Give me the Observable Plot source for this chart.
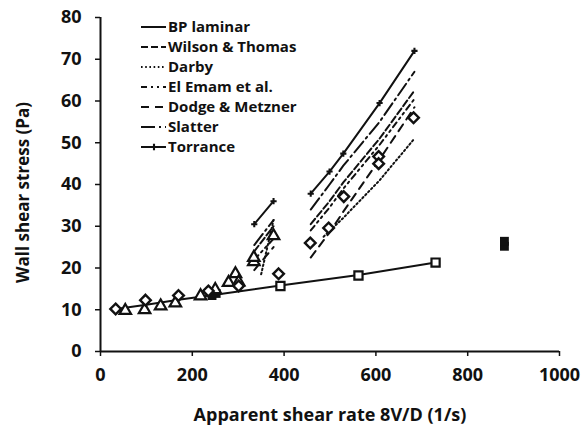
<!DOCTYPE html>
<html><head><meta charset="utf-8">
<script src="https://cdn.jsdelivr.net/npm/d3@7"></script>
<script src="https://cdn.jsdelivr.net/npm/@observablehq/plot@0.6"></script>
<style>
body{margin:0;background:#fff;}
#wrap{position:relative;width:587px;height:432px;}
#legend{position:absolute;left:140px;top:17px;}
</style></head><body><div id="wrap"></div>
<script>
// Legend / model names and their dash styles
const models = ["BP laminar","Wilson & Thomas","Darby","El Emam et al.","Dodge & Metzner","Slatter","Torrance"];
const dashes = [null,"7,3","1.6,2.6","6,4,2,4,2,4","8,6","14,4,2,4",null];

// Axis ticks
const xTicks = [0,200,400,600,800,1000];
const yTicks = [0,10,20,30,40,50,60,70,80];

// BP laminar model
const bpX = [30,100,170,250,392,562,730];
const bpY = [10.1,11.2,12.4,13.6,15.8,18.3,21.3];

// Model predictions, group 1 (low range) and group 2 (high range)
const g1X = [335,377];
const g2X = [458,499,529,608,684];
const wtY1 = [24,30];           const wtY2 = [30.5,36,40.5,51,62.5];
const darbyX1 = [350,377];      const darbyY1 = [18.5,31.5];
const darbyX2 = [486,529,608,684]; const darbyY2 = [27.5,32,41,51];
const eeY1 = [22,27];           const eeY2 = [29,34.5,39,49.5,60.5];
const dmY1 = [19.5,25];         const dmY2 = [22.5,28.5,33.5,46,58.5];
const slY1 = [25.5,31.5];       const slY2 = [34,40,44.5,55,67];
const torY1 = [30.5,36];        const torY2 = [37.8,43.1,47.4,59.5,72];

// Experimental data
const diaX = [33,98,170,235,301,388,457,497,530,606,606,682];
const diaY = [10.2,12.3,13.4,14.5,15.7,18.6,26,29.6,37.1,46.7,45,56];
const triX = [54,96,131,163,218,250,279,294,301,334,334,377];
const triY = [9.8,10.0,10.9,11.6,13.3,14.8,16.5,18.6,16.6,21.5,22.5,27.7];
const sqX = [392,562,730];
const sqY = [15.7,18.2,21.3];
const fsqX = [243,252,880,880];
const fsqY = [13.4,13.9,25.2,26.4];

const pts = (xs, ys, name, grp) => xs.map((x,i)=>({x, y: ys[i], model: name, g: grp}));
const series = {
  "BP laminar": pts(bpX,bpY,"BP laminar",1),
  "Wilson & Thomas": [...pts(g1X,wtY1,"WT",1), ...pts(g2X,wtY2,"WT",2)],
  "Darby": [...pts(darbyX1,darbyY1,"D",1), ...pts(darbyX2,darbyY2,"D",2)],
  "El Emam et al.": [...pts(g1X,eeY1,"EE",1), ...pts(g2X,eeY2,"EE",2)],
  "Dodge & Metzner": [...pts(g1X,dmY1,"DM",1), ...pts(g2X,dmY2,"DM",2)],
  "Slatter": [...pts(g1X,slY1,"S",1), ...pts(g2X,slY2,"S",2)],
  "Torrance": [...pts(g1X,torY1,"T",1), ...pts(g2X,torY2,"T",2)]
};

const ink = "#111";
const font = "'Open Sans', sans-serif";

const lineMarks = models.map((m,i) => Plot.line(series[m], {
  x: "x", y: "y", z: "g", stroke: ink, strokeWidth: 2,
  strokeDasharray: dashes[i] || undefined
}));

const chart = Plot.plot({
  width: 587, height: 432,
  marginLeft: 100, marginRight: 28, marginTop: 17, marginBottom: 81,
  x: {domain: [0,1000]},
  y: {domain: [0,80]},
  style: {fontFamily: font, color: ink, background: "#fff"},
  marks: [
    Plot.axisX({ticks: xTicks, tickFormat: d3.format("d"), tickSize: 5, tickPadding: 12, fontSize: 18, fontWeight: "bold", strokeWidth: 1.5, label: null}),
    Plot.axisY({ticks: yTicks, tickFormat: d3.format("d"), tickSize: 5, tickPadding: 14, fontSize: 18, fontWeight: "bold", strokeWidth: 1.5, label: null}),
    Plot.ruleY([0], {stroke: ink, strokeWidth: 2}),
    Plot.ruleX([0], {stroke: ink, strokeWidth: 2}),
    ...lineMarks,
    Plot.dot(series["Torrance"], {x: "x", y: "y", symbol: "cross", r: 2.6, fill: ink}),
    Plot.dot(pts(fsqX,fsqY,"fs",0), {x: "x", y: "y", symbol: "square", r: 5, fill: ink}),
    Plot.dot(pts(sqX,sqY,"sq",0), {x: "x", y: "y", symbol: "square2", r: 5.2, stroke: ink, fill: "#fff", strokeWidth: 2.2}),
    Plot.dot(pts(triX,triY,"tri",0), {x: "x", y: "y", symbol: "triangle2", r: 5.5, stroke: ink, fill: "#fff", strokeWidth: 2.2}),
    Plot.dot(pts(diaX,diaY,"dia",0), {x: "x", y: "y", symbol: "diamond2", r: 4.8, stroke: ink, fill: "#fff", strokeWidth: 2.4}),
    Plot.text(["Apparent shear rate 8V/D (1/s)"], {frameAnchor: "bottom", lineAnchor: "middle", textAnchor: "middle", dy: 64, fontSize: 18, fontWeight: "bold", fill: ink}),
    Plot.text(["Wall shear stress (Pa)"], {frameAnchor: "left", textAnchor: "middle", lineAnchor: "middle", rotate: -90, dx: -77, dy: 8, fontSize: 17, fontWeight: "bold", fill: ink})
  ]
});
const wrap = document.getElementById("wrap");
wrap.appendChild(chart);

// Legend overlay
const leg = d3.select(wrap).append("svg").attr("id","legend").attr("width",200).attr("height",145);
models.forEach((m,i) => {
  const y = 10 + 20*i;
  const g = leg.append("g");
  g.append("line").attr("x1",1).attr("x2",26).attr("y1",y).attr("y2",y)
    .attr("stroke",ink).attr("stroke-width",2)
    .attr("stroke-dasharray", dashes[i] || null);
  if (m === "Torrance") {
    g.append("path").attr("d", d3.symbol(d3.symbolCross, 22)()).attr("transform",`translate(14,${y})`).attr("fill",ink);
  }
  g.append("text").attr("x",28).attr("y",y).attr("dy","0.35em")
    .attr("font-family",font).attr("font-size",15).attr("font-weight","bold").attr("fill",ink).text(m);
});
</script></body></html>
